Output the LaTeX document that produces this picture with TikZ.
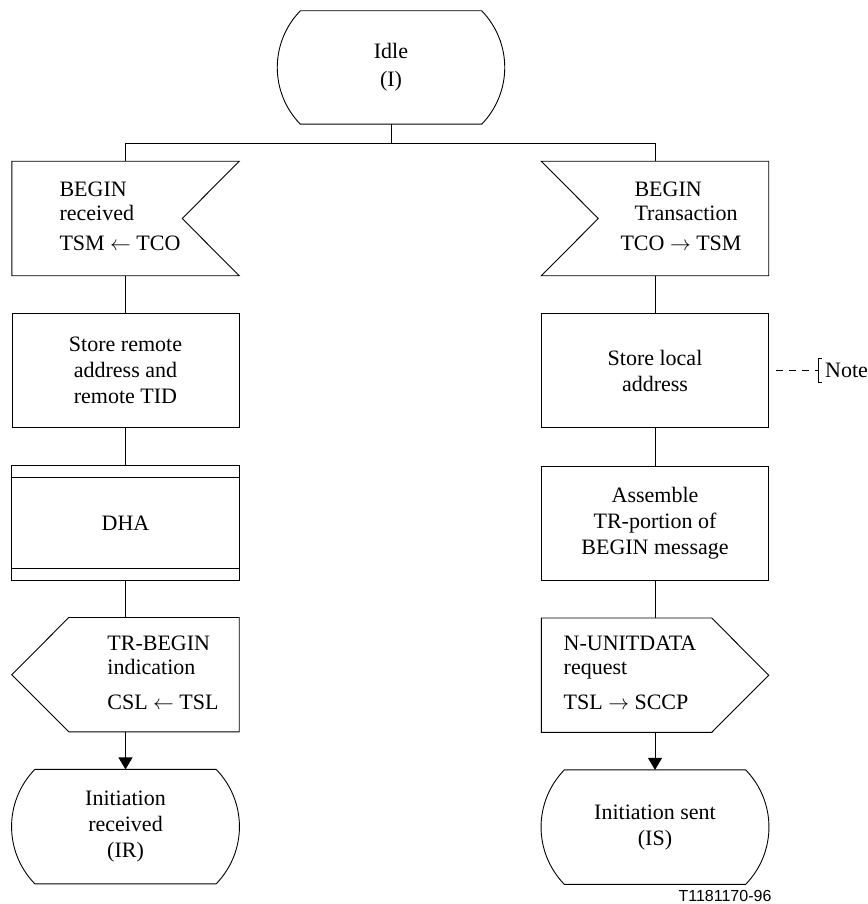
\documentclass[tikz,border=0pt]{standalone}
\usepackage{fontspec}
\setmainfont{Liberation Serif}
\setsansfont{Liberation Sans}
\usetikzlibrary{positioning, arrows.meta, calc}

\begin{document}
\begin{tikzpicture}[
  x=1pt, y=1pt,
  node distance=37.5pt,
  every node/.style={font=\fontsize{22}{26}\selectfont},
  sdlbox/.style={
    minimum width=227pt, minimum height=114pt, inner sep=0pt, align=center
  },
  sdltask/.style={sdlbox, draw, line width=0.9pt},
  outline/.style={line width=0.9pt},
  flow/.style={line width=0.9pt},
  flowarr/.style={flow, -{Triangle[length=12pt, width=14pt]}},
]
\useasboundingbox (0,0) rectangle (867,-904);

% start state
\node[sdlbox, minimum height=113pt] (idle) at (391,-67.5) {Idle\\[2pt](I)};

% left branch
\node[sdlbox] (brec) at (125.5,-218.5)
  {\begin{tabular}{@{}l@{}}BEGIN\\[-2pt]received\\[4pt]TSM $\leftarrow$ TCO\end{tabular}\hspace*{11pt}};
\node[sdltask, below=of brec] (store) {Store remote\\address and\\remote TID};
\node[sdlbox, below=of store] (dha) {DHA};
\node[sdlbox, below=of dha] (ind)
  {\hspace*{75pt}\begin{tabular}{@{}l@{}}TR-BEGIN\\[-2pt]indication\\[9pt]CSL $\leftarrow$ TSL\end{tabular}};
\node[sdlbox, below=of ind] (irec) {Initiation\\received\\(IR)};

% right branch
\node[sdlbox] (btrans) at (655,-218.5)
  {\hspace*{66pt}\begin{tabular}{@{}l@{}}BEGIN\\[-2pt]Transaction\\[4pt]\hspace*{-14pt}TCO $\rightarrow$ TSM\end{tabular}};
\node[sdltask, below=of btrans] (storel) {Store local\\address};
\node[sdltask, below=of storel] (asm) {Assemble\\TR-portion of\\BEGIN message};
\node[sdlbox, below=of asm] (req)
  {\begin{tabular}{@{}l@{}}N-UNITDATA\\[-2pt]request\\[9pt]TSL $\rightarrow$ SCCP\end{tabular}\hspace*{50pt}};
\node[sdlbox, below=of req] (isent) {Initiation sent\\(IS)};

% state outlines
\foreach \n in {idle, irec, isent} {
  \draw[outline] ($(\n.north west)+(23,0)$) -- ($(\n.north east)+(-23,0)$)
    to[bend left=44] ($(\n.south east)+(-23,0)$) -- ($(\n.south west)+(23,0)$)
    to[bend left=44] ($(\n.north west)+(23,0)$) -- cycle;
}

% input signals
\draw[outline] (brec.north west) -- (brec.north east) -- ($(brec.east)+(-57,0)$)
  -- (brec.south east) -- (brec.south west) -- cycle;
\draw[outline] (btrans.north west) -- (btrans.north east) -- (btrans.south east)
  -- (btrans.south west) -- ($(btrans.west)+(57,0)$) -- cycle;

% procedure call
\draw[outline] (dha.north west) rectangle (dha.south east);
\draw[outline] ($(dha.north west)+(0,-12)$) -- ($(dha.north east)+(0,-12)$);
\draw[outline] ($(dha.south west)+(0,12)$) -- ($(dha.south east)+(0,12)$);

% output signals
\draw[outline] ($(ind.north west)+(57,0)$) -- (ind.north east) -- (ind.south east)
  -- ($(ind.south west)+(57,0)$) -- (ind.west) -- cycle;
\draw[outline] (req.north west) -- ($(req.north east)+(-57,0)$) -- (req.east)
  -- ($(req.south east)+(-57,0)$) -- (req.south west) -- cycle;

% flow lines
\coordinate (fork) at ($(idle.south)+(0,-19)$);
\draw[flow] (idle.south) -- (fork);
\draw[flow] (brec.north) |- (fork) -| (btrans.north);
\foreach \a/\b in {brec/store, store/dha, dha/ind, btrans/storel, storel/asm, asm/req} {
  \draw[flow] (\a.south) -- (\b.north);
}
\draw[flowarr] (ind.south) -- (irec.north);
\draw[flowarr] (req.south) -- (isent.north);

% comment
\node[right=56pt of storel, inner sep=0pt] (note) {Note};
\draw[outline] ($(note.west)+(-3,12)$) -- ++(-4,0) -- ++(0,-24) -- ++(4,0);
\draw[flow, dash pattern=on 7pt off 6pt, dash phase=0pt]
  ($(storel.east)+(7,0)$) -- ($(note.west)+(-7,0)$);

\node[font=\sffamily\fontsize{16}{18}\selectfont] (fig) at (725,-896) {T1181170-96};

\end{tikzpicture}
\end{document}
